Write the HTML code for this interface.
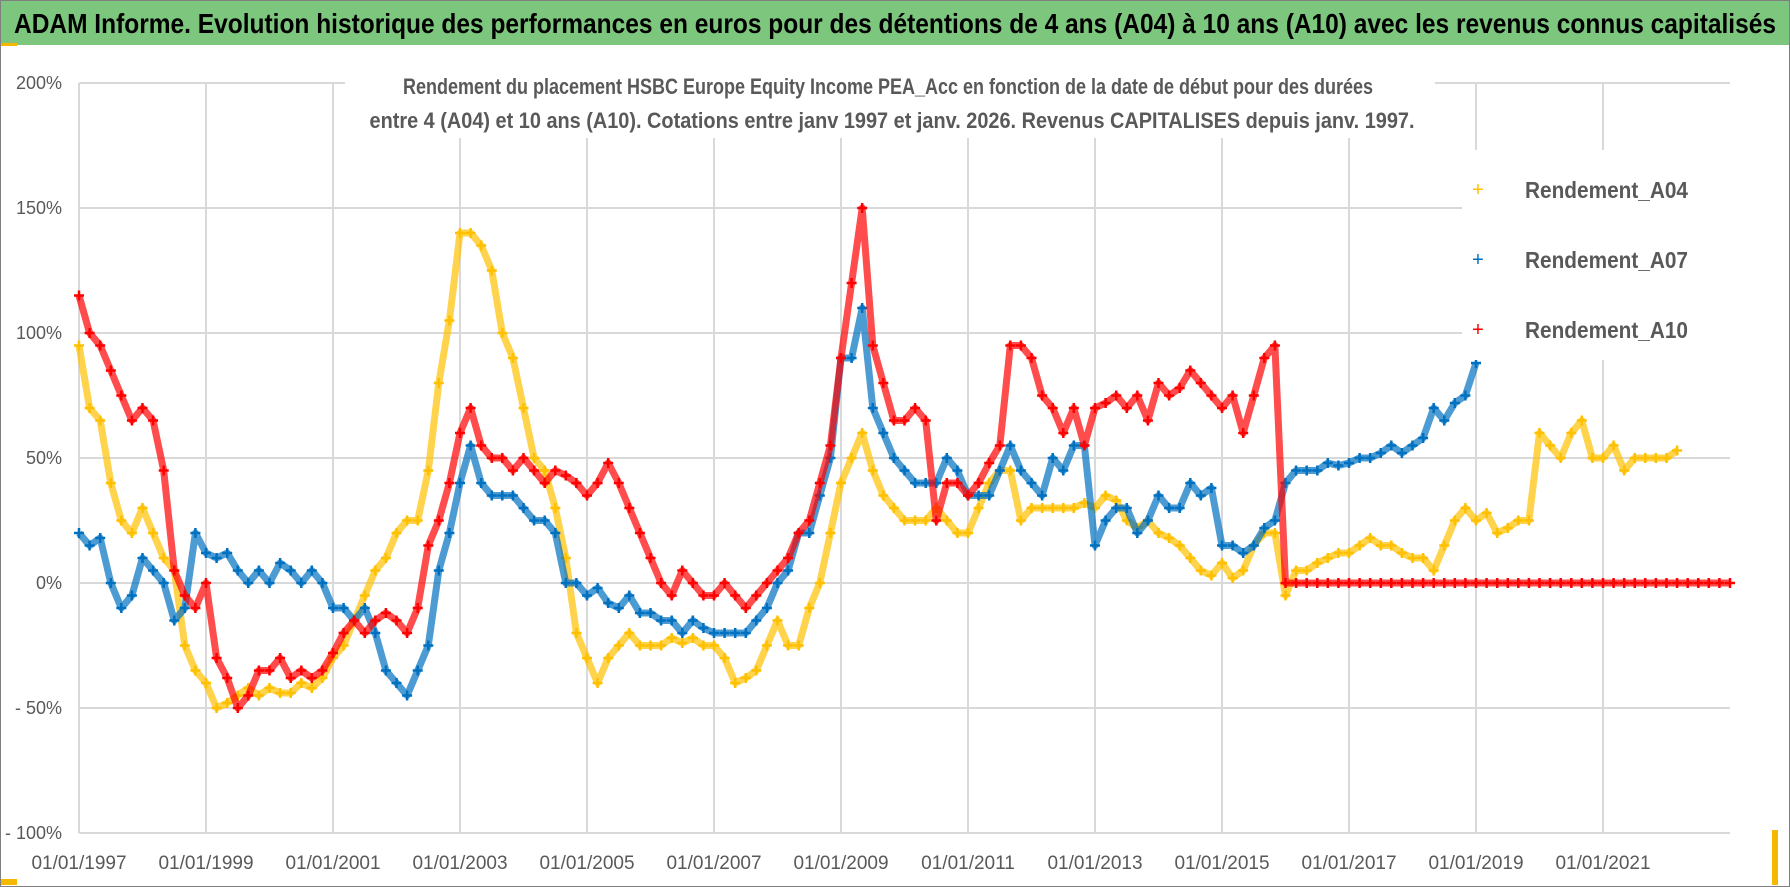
<!DOCTYPE html>
<html><head><meta charset="utf-8"><style>
html,body{margin:0;padding:0;background:#fff}
svg{display:block}
text{font-family:"Liberation Sans Narrow","Liberation Sans",sans-serif}
</style></head><body>
<svg id="chart" width="1790" height="887" viewBox="0 0 1790 887" xmlns="http://www.w3.org/2000/svg">
<rect x="0.5" y="0.5" width="1789" height="886" fill="#fff" stroke="#7f7f7f"/>
<rect x="1" y="1" width="1788" height="44" fill="#7dc67d"/>
<rect x="1" y="43" width="16" height="3" fill="#f5b800"/>
<rect x="1" y="879" width="16" height="6" fill="#f5b800"/>
<rect x="1772" y="830" width="6" height="55" fill="#f5b800"/>
<text x="14" y="33" font-size="28" font-weight="bold" fill="#000" textLength="1762" lengthAdjust="spacingAndGlyphs">ADAM Informe. Evolution historique des performances en euros pour des détentions de 4 ans (A04) à 10 ans (A10) avec les revenus connus capitalisés</text>
<g id="grid"></g>
<g id="yticks"></g>
<g id="xticks"></g>
<g id="series"></g>
<rect x="345" y="72" width="1090" height="66" fill="#fff"/>
<text x="888" y="94" font-size="22" font-weight="bold" fill="#595959" text-anchor="middle" textLength="970" lengthAdjust="spacingAndGlyphs">Rendement du placement HSBC Europe Equity Income PEA_Acc en fonction de la date de début pour des durées</text>
<text x="892" y="128" font-size="22" font-weight="bold" fill="#595959" text-anchor="middle" textLength="1045" lengthAdjust="spacingAndGlyphs">entre 4 (A04) et 10 ans (A10).  Cotations entre janv 1997 et janv. 2026. Revenus CAPITALISES depuis janv. 1997.</text>
<g>
<rect x="1462" y="150" width="320" height="210" fill="#fff"/>
<g><text x="1478" y="196" font-size="20" fill="#ffc000" text-anchor="middle">+</text><text x="1525" y="198" font-size="23" font-weight="bold" fill="#595959" textLength="163" lengthAdjust="spacingAndGlyphs">Rendement_A04</text></g>
<g><text x="1478" y="266" font-size="20" fill="#0070c0" text-anchor="middle">+</text><text x="1525" y="268" font-size="23" font-weight="bold" fill="#595959" textLength="163" lengthAdjust="spacingAndGlyphs">Rendement_A07</text></g>
<g><text x="1478" y="336" font-size="20" fill="#ff0000" text-anchor="middle">+</text><text x="1525" y="338" font-size="23" font-weight="bold" fill="#595959" textLength="163" lengthAdjust="spacingAndGlyphs">Rendement_A10</text></g>
</g>
</svg>
<script>
const startYear = 1997;
const stepYear = 1/6;
const yTickValues = [-100, -50, 0, 50, 100, 150, 200];
const yTickLabels = ["- 100%", "- 50%", "0%", "50%", "100%", "150%", "200%"];
const xTickYears = [1997, 1999, 2001, 2003, 2005, 2007, 2009, 2011, 2013, 2015, 2017, 2019, 2021];
const xTickLabels = ["01/01/1997","01/01/1999","01/01/2001","01/01/2003","01/01/2005","01/01/2007","01/01/2009","01/01/2011","01/01/2013","01/01/2015","01/01/2017","01/01/2019","01/01/2021"];
const a04 = [95,70,65,40,25,20, 30,20,10,5,-25,-35, -40,-50,-48,-45,-42,-45, -42,-44,-44,-40,-42,-38, -30,-25,-15,-5,5,10, 20,25,25,45,80,105,
 140,140,135,125,100,90, 70,50,45,30,10,-20, -30,-40,-30,-25,-20,-25, -25,-25,-22,-24,-22,-25, -25,-30,-40,-38,-35,-25, -15,-25,-25,-10,0,20,
 40,50,60,45,35,30, 25,25,25,30,25,20, 20,30,40,45,45,25, 30,30,30,30,30,32, 30,35,33,25,22,25, 20,18,15,10,5,3, 8,2,5,15,20,20,
 -5,5,5,8,10,12, 12,15,18,15,15,12, 10,10,5,15,25,30, 25,28,20,22,25,25, 60,55,50,60,65,50, 50,55,45,50,50,50, 50,53];
const a07 = [20,15,18,0,-10,-5, 10,5,0,-15,-10,20, 12,10,12,5,0,5, 0,8,5,0,5,0, -10,-10,-15,-10,-20,-35, -40,-45,-35,-25,5,20,
 40,55,40,35,35,35, 30,25,25,20,0,0, -5,-2,-8,-10,-5,-12, -12,-15,-15,-20,-15,-18, -20,-20,-20,-20,-15,-10, 0,5,20,20,35,50,
 90,90,110,70,60,50, 45,40,40,40,50,45, 35,35,35,45,55,45, 40,35,50,45,55,55, 15,25,30,30,20,25, 35,30,30,40,35,38, 15,15,12,15,22,25,
 40,45,45,45,48,47, 48,50,50,52,55,52, 55,58,70,65,72,75, 88];
const a10 = [115,100,95,85,75,65, 70,65,45,5,-5,-10, 0,-30,-38,-50,-45,-35, -35,-30,-38,-35,-38,-35, -28,-20,-15,-20,-15,-12, -15,-20,-10,15,25,40,
 60,70,55,50,50,45, 50,45,40,45,43,40, 35,40,48,40,30,20, 10,0,-5,5,0,-5, -5,0,-5,-10,-5,0, 5,10,20,25,40,55,
 90,120,150,95,80,65, 65,70,65,25,40,40, 35,40,48,55,95,95, 90,75,70,60,70,55, 70,72,75,70,75,65, 80,75,78,85,80,75, 70,75,60,75,90,95,
 0,0,0,0,0,0, 0,0,0,0,0,0, 0,0,0,0,0,0, 0,0,0,0,0,0, 0,0,0,0,0,0, 0,0,0,0,0,0, 0,0,0,0,0,0, 0];

const X0 = 79, PX_PER_YEAR = 63.5, Y0 = 583, PX_PER_PCT = 2.5, XR = 1730;
function xScale(yr){ return X0 + (yr - startYear) * PX_PER_YEAR; }
function yScale(v){ return Y0 - v * PX_PER_PCT; }
const NS = "http://www.w3.org/2000/svg";
function mk(tag, attrs, parent){ const e = document.createElementNS(NS, tag); for (const k in attrs) e.setAttribute(k, attrs[k]); parent.appendChild(e); return e; }

const grid = document.getElementById('grid');
yTickValues.forEach((v, i) => {
  const l = mk('line', {x1: X0, x2: XR, y1: yScale(v), y2: yScale(v), stroke: '#d9d9d9', 'stroke-width': 2}, grid);
  
  
  const t = mk('text', {x: 62, y: yScale(v) + 6, 'font-size': 18, fill: '#595959', 'text-anchor': 'end'}, document.getElementById('yticks'));
  t.textContent = yTickLabels[i];
  
  
});
xTickYears.forEach((yr, i) => {
  const l = mk('line', {x1: xScale(yr), x2: xScale(yr), y1: yScale(200), y2: yScale(-100), stroke: '#d9d9d9', 'stroke-width': 2}, grid);
  
  
  const t = mk('text', {x: xScale(yr), y: 869, 'font-size': 19, fill: '#595959', 'text-anchor': 'middle'}, document.getElementById('xticks'));
  t.textContent = xTickLabels[i];
  
  
});

const seriesLayer = document.getElementById('series');
function drawSeries(vals, color, name){
  const g = mk('g', {}, seriesLayer);
  
  
  const pts = vals.map((v, i) => xScale(startYear + i * stepYear).toFixed(1) + ',' + yScale(v).toFixed(1)).join(' ');
  const pl = mk('polyline', {points: pts, fill: 'none', stroke: color, 'stroke-width': 7, 'stroke-opacity': 0.7, 'stroke-linejoin': 'round'}, g);
  
  
  let d = '';
  vals.forEach((v, i) => {
    const x = xScale(startYear + i * stepYear), y = yScale(v);
    d += `M${(x-5).toFixed(1)},${y.toFixed(1)}h10M${x.toFixed(1)},${(y-5).toFixed(1)}v10`;
  });
  const p = mk('path', {d: d, stroke: color, 'stroke-width': 2.5, fill: 'none'}, g);
  
  
}
drawSeries(a04, '#ffc000', 'series-a04');
drawSeries(a07, '#0070c0', 'series-a07');
drawSeries(a10, '#ff0000', 'series-a10');
</script>
</body></html>
